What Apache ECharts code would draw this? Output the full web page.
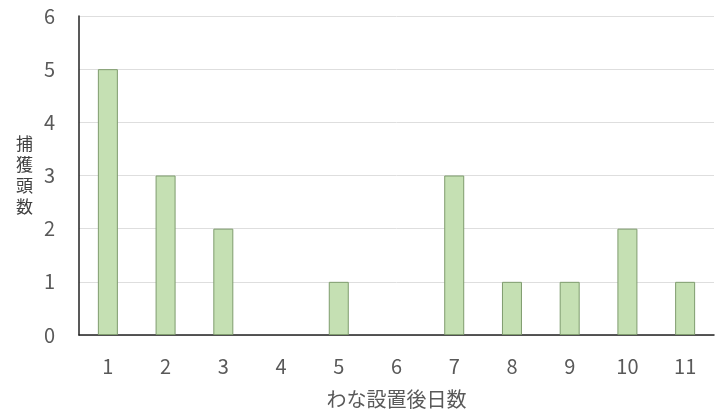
<!DOCTYPE html>
<html>
<head>
<meta charset="utf-8">
<script src="https://cdn.jsdelivr.net/npm/echarts@6/dist/echarts.min.js"></script>
<style>
  html, body { margin: 0; padding: 0; background: #fff; }
  #chart { width: 718px; height: 414px; }
</style>
</head>
<body>
<div id="chart"></div>
<script>
// days after setting the trap
var days = ['1', '2', '3', '4', '5', '6', '7', '8', '9', '10', '11'];
// number of animals captured
var captures = [5, 3, 2, 0, 1, 0, 3, 1, 1, 2, 1];
var yTicks = [0, 1, 2, 3, 4, 5, 6];

var chart = echarts.init(document.getElementById('chart'));
var font = '"Noto Sans CJK JP", "Noto Sans", sans-serif';

// zero-height bars leave no outline in the original
var barData = captures.map(function (v) {
    return v === 0 ? { value: v, itemStyle: { borderWidth: 0 } } : v;
});

var option = {
    animation: false,
    grid: {
        left: 79,
        right: 4,
        top: 16,
        bottom: 79,
        outerBoundsMode: 'none'
    },
    xAxis: {
        type: 'category',
        data: days,
        name: 'わな設置後日数',
        nameLocation: 'middle',
        nameGap: 54,
        nameTextStyle: { fontFamily: font, fontSize: 20, color: '#595959' },
        axisLine: { lineStyle: { color: '#222', width: 1.5 } },
        axisTick: { show: false },
        axisLabel: { fontFamily: font, fontSize: 20, color: '#595959', margin: 21 }
    },
    yAxis: {
        type: 'value',
        min: yTicks[0],
        max: yTicks[yTicks.length - 1],
        interval: 1,
        name: '捕\n獲\n頭\n数',
        nameLocation: 'middle',
        nameRotate: 0,
        nameGap: 46,
        nameTextStyle: { fontFamily: font, fontSize: 17, lineHeight: 21, color: '#404040' },
        axisLine: { show: true, lineStyle: { color: '#222', width: 1.5 } },
        axisTick: { show: false },
        axisLabel: { fontFamily: font, fontSize: 20, color: '#595959', margin: 24 },
        splitLine: { lineStyle: { color: '#dedede' } }
    },
    series: [{
        type: 'bar',
        data: barData,
        barWidth: 20,
        itemStyle: {
            color: '#c5e0b3',
            borderColor: '#7f9c6e',
            borderWidth: 1
        }
    }]
};

chart.setOption(option);
</script>
</body>
</html>
